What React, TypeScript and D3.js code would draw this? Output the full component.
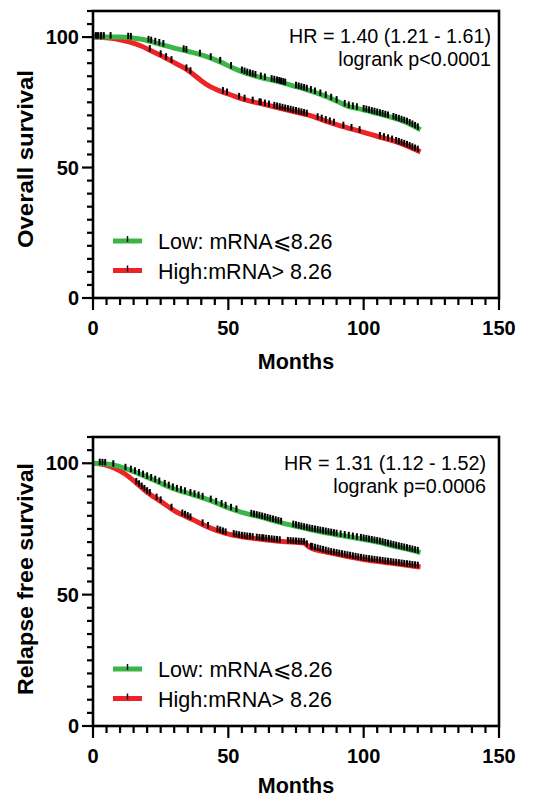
import React from 'react';
import * as d3 from 'd3';

// ---- data (month, percent surviving) ----
const osLow: [number, number][] = [[0,100],[10,100],[15,99.6],[19,99],[24,97.5],[30,95.8],[36,94.3],[42,92.5],[47,90.5],[52,88],[57,86],[62,84.5],[68,83],[74,81.3],[80,79.5],[86,77.3],[91,75],[94,73.5],[98,72.6],[104,71],[111,69],[116,67.2],[121,64.5]];
const osHigh: [number, number][] = [[0,100],[6,99.6],[10,99],[14,98],[18,96.5],[22,94.5],[26,92.5],[30,90.2],[34,88],[37,85.8],[40,83.3],[43,81.2],[47,79.3],[51,77.8],[56,76],[62,74.5],[68,73],[74,71.5],[80,70],[86,67.8],[92,65.8],[99,63.8],[105,62],[111,60.2],[116,58.3],[121,56]];
const rfsLow: [number, number][] = [[0,100],[5,99.7],[9,99],[15,96.8],[22,93.8],[30,90.2],[37,88],[43,86],[50,83],[56,81],[62,79.5],[69,77.5],[75,76],[80,74.8],[89,73],[99,71.2],[106,69.8],[111,68.5],[116,67.3],[121,66]];
const rfsHigh: [number, number][] = [[0,100],[4,99.5],[8,98.1],[12,95.8],[16,92.5],[20,89],[25,85.5],[30,82],[37,78.5],[43,75.5],[49,73.3],[55,72],[63,71],[70,70.2],[78,69.6],[80,68],[88,65.8],[100,63.4],[110,62],[121,60.5]];

// censored observation times (months)
const osLowCensor = [1,2,3,4,6.5,13,14,20.5,21.5,23,24.5,26,33.5,34.5,39.5,43.5,47,51,55,56,57,58,59,60,62,63.5,66,67,68,68.8,69.5,70.3,71,75,76,77,78,79,80.5,82,84,86,88,90,93,94.5,96,97.5,100,101,102,103,104,105,106,107,108,109,111,112,113,114,115,116,117,118,119,120];
const osHighCensor = [1.5,3,21,25,27,29,34.5,36,48,49.5,54,56,59,61.5,62,63.5,65,67,68,69,70,71,72,73,74,75,76,77,78,79,83,84.5,86,87.5,89,92.5,95.5,98.5,106,107.5,109,110.5,112,113,114,115,116,117,118,119,120];
const rfsLowCensor = [2.5,3.5,4.5,7.5,12,14,15.5,17,18.5,20,21.5,23,24.5,26.5,28,29.5,31,32.5,34,36,37.5,39,40.5,43.5,45.5,47.5,49,51,53,58.5,59.5,60.5,61.5,62.5,63.5,64.5,65.5,66.5,67.5,68.5,69.5,74,75,76,77,78,79,80,81,82,83,84,85,86,87,88,89,90,91.5,93,94.5,96,97.5,99,100,101,102,103,104,105,106,107,108,109,110,111,112,113,114,115,116,117,118,119,120];
const rfsHighCensor = [16,17,18,19,20,21,23.5,25,29,33,34,35,36,40.5,42.5,46,47,48,49,52,53,54,55,56,57,58,59,60.5,61.5,62.5,63,64,65,66,67,68,69,72,73,74,75,76,77,78,79,80.5,81,82,83,84,85,86,87,88,89,90,91,92,93,94,95,96,97,98,99,100,101,102,103,104,105,106,107,108,109,110,111,112,113,114,115,116,117,118,119,120];

const xMajorTicks = [0, 50, 100, 150];
const yMajorTicks = [0, 50, 100];
const legendLabels = ['Low: mRNA\u2A7D8.26', 'High:mRNA> 8.26'];
const GREEN = '#3bb54a';
const RED = '#ee2326';
const FONT = '"Liberation Sans", Arial, Helvetica, sans-serif';

type PanelProps = {
  yTop: number; yBottom: number;
  low: [number, number][]; high: [number, number][];
  lowC: number[]; highC: number[];
  yLabel: string; yLabelCenter: number; yLabelLen: number;
  hr: string; p: string; hrY: number; hrRight: number;
  legY: number; monthsY: number;
};

function Panel(props: PanelProps) {
  const { yTop, yBottom, low, high, lowC, highC, yLabel, yLabelCenter, yLabelLen, hr, p, hrY, hrRight, legY, monthsY } = props;
  const x = d3.scaleLinear().domain([0, 150]).range([93, 499]);
  const y = d3.scaleLinear().domain([0, 110]).range([yBottom, yTop]);
  const line = d3.line<[number, number]>().x(d => x(d[0])).y(d => y(d[1])).curve(d3.curveMonotoneX);
  const minorX = d3.range(0, 151, 5);
  const minorY = d3.range(0, 111, 5);
  const interp = (data: [number, number][]) =>
    d3.scaleLinear().domain(data.map(d => d[0])).range(data.map(d => d[1])).clamp(true);
  const series = [
    { data: low, c: lowC, f: interp(low), color: GREEN },
    { data: high, c: highC, f: interp(high), color: RED },
  ];
  return (
    <g>
      {series.slice().reverse().map((s, i) => (
        <path key={'l' + i} d={line(s.data) || ''} fill="none" stroke={s.color} strokeWidth={5} strokeLinejoin="round" />
      ))}
      {series.map((s, i) => (
        <g key={'c' + i}>
          {s.c.map((t, j) => (
            <line key={j} x1={x(t)} x2={x(t)} y1={y(s.f(t)) - 5} y2={y(s.f(t)) + 1.5} stroke="#000" strokeWidth={2} />
          ))}
        </g>
      ))}
      <rect x={x(0)} y={yTop} width={x(150) - x(0)} height={yBottom - yTop} fill="none" stroke="#000" strokeWidth={2.6} />
      {minorX.map(t => (
        <line key={'mx' + t} x1={x(t)} x2={x(t)} y1={yBottom} y2={yBottom + (xMajorTicks.includes(t) ? 12 : 7)} stroke="#000" strokeWidth={2.2} />
      ))}
      {xMajorTicks.map(t => (
        <text key={'xl' + t} x={x(t)} y={yBottom + 37} textAnchor="middle" fontFamily={FONT} fontWeight="bold" fontSize={20}>{t}</text>
      ))}
      {minorY.map(t => (
        <line key={'my' + t} x1={x(0)} x2={x(0) - (yMajorTicks.includes(t) ? 11 : 6)} y1={y(t)} y2={y(t)} stroke="#000" strokeWidth={2.2} />
      ))}
      {yMajorTicks.map(t => (
        <text key={'yl' + t} x={79} y={y(t) + 7} textAnchor="end" fontFamily={FONT} fontWeight="bold" fontSize={20}>{t}</text>
      ))}
      <text x={296} y={monthsY} textAnchor="middle" fontFamily={FONT} fontWeight="bold" fontSize={21.5}>Months</text>
      <text transform={`translate(33,${yLabelCenter}) rotate(-90)`} textAnchor="middle" fontFamily={FONT} fontWeight="bold" fontSize={21.5} textLength={yLabelLen} lengthAdjust="spacingAndGlyphs">{yLabel}</text>
      <text x={hrRight} y={hrY} textAnchor="end" fontFamily={FONT} fontSize={19.7}>{hr}</text>
      <text x={hrRight} y={hrY + 23} textAnchor="end" fontFamily={FONT} fontSize={19.7}>{p}</text>
      {[GREEN, RED].map((c, i) => (
        <g key={'lg' + i}>
          <line x1={113} x2={142} y1={legY + i * 29.5} y2={legY + i * 29.5} stroke={c} strokeWidth={5} />
          <line x1={127.5} x2={127.5} y1={legY + i * 29.5 - 5} y2={legY + i * 29.5 + 1} stroke="#111" strokeWidth={1.5} />
          <text x={158} y={legY + i * 29.5 + 8} fontFamily={FONT} fontSize={21.5}>{legendLabels[i]}</text>
        </g>
      ))}
    </g>
  );
}

export default function App() {
  return (
    <div style={{ position: 'absolute', left: 0, top: 0 }}>
      <svg width={554} height={799} style={{ display: 'block', background: '#fff' }}>
        <Panel yTop={11} yBottom={298} low={osLow} high={osHigh} lowC={osLowCensor} highC={osHighCensor}
          yLabel="Overall survival" yLabelCenter={159} yLabelLen={178}
          hr="HR = 1.40 (1.21 - 1.61)" p="logrank p<0.0001" hrY={43} hrRight={491} legY={241} monthsY={369} />
        <Panel yTop={437} yBottom={726} low={rfsLow} high={rfsHigh} lowC={rfsLowCensor} highC={rfsHighCensor}
          yLabel="Relapse free survival" yLabelCenter={579} yLabelLen={232}
          hr="HR = 1.31 (1.12 - 1.52)" p="logrank p=0.0006" hrY={470} hrRight={486} legY={669} monthsY={793} />
      </svg>
    </div>
  );
}
